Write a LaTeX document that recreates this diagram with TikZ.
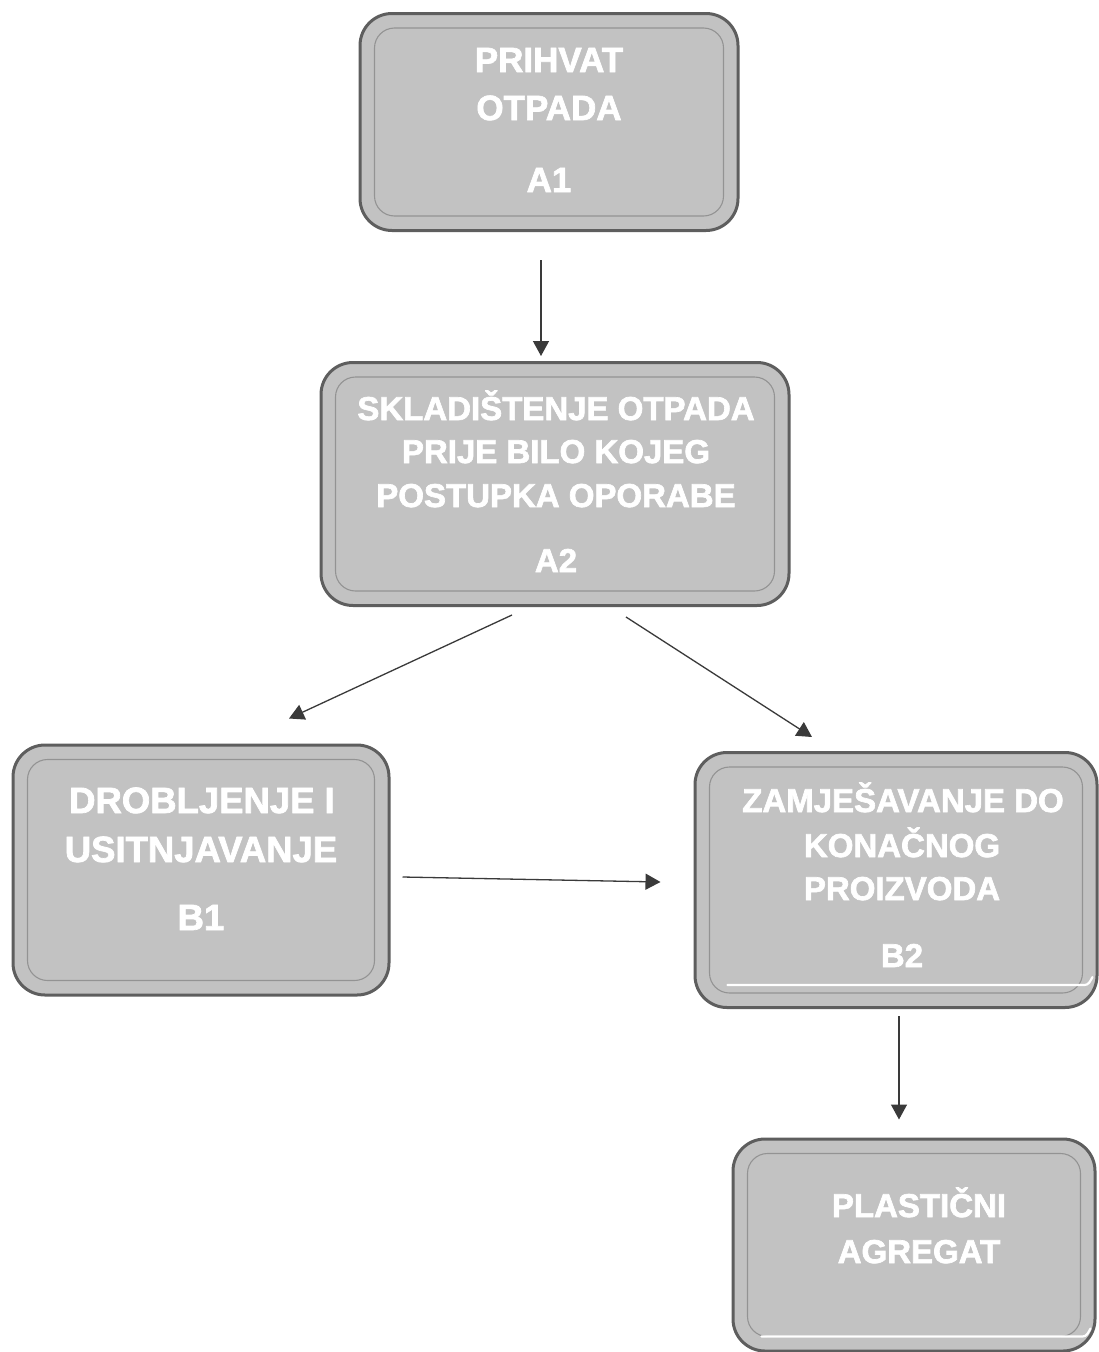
\documentclass[tikz,border=0pt]{standalone}
\usepackage{fontspec}
\setmainfont{Liberation Sans}[BoldFeatures={FakeBold=2}]
\usetikzlibrary{arrows.meta}
\definecolor{boxfill}{HTML}{C2C2C2}
\definecolor{boxedge}{HTML}{5E5E5E}
\definecolor{inneredge}{HTML}{939393}
\definecolor{arrowcol}{HTML}{3A3A3A}
\tikzset{
  procbox/.style={draw=boxedge, fill=boxfill, line width=3pt, rounded corners=32pt, inner sep=0pt},
  innerline/.style={draw=inneredge, line width=1.1pt, rounded corners=20pt},
  shine/.style={draw=white, line width=2.2pt, line cap=round},
  lbl/.style={text=white, font=\bfseries\fontsize{33}{33}\selectfont, anchor=base, inner sep=0pt},
  biglbl/.style={lbl, font=\bfseries\fontsize{35}{35}\selectfont},
  widelbl/.style={lbl, font=\bfseries\fontsize{36.5}{36.5}\selectfont},
  arr/.style={draw=arrowcol, line width=1.3pt, -{Triangle[width=16pt,length=15pt]}}
}
\newcommand\innerframe[1]{\draw[innerline] ([shift={(16,-16)}]#1.south west) rectangle ([shift={(-16,16)}]#1.north east);}
\begin{document}
\begin{tikzpicture}[x=1pt,y=-1pt]
\useasboundingbox[fill=white] (0,0) rectangle (1099,1352);
% boxes
\node[procbox, minimum width=378pt, minimum height=217pt] (a1) at (549,122) {};
\node[procbox, minimum width=468pt, minimum height=243pt] (a2) at (555,484) {};
\node[procbox, minimum width=376pt, minimum height=250pt] (b1) at (201,870) {};
\node[procbox, minimum width=402pt, minimum height=255pt] (b2) at (896,880) {};
\node[procbox, minimum width=362pt, minimum height=212pt] (b3) at (914,1245) {};
\innerframe{a1}
\innerframe{a2}
\innerframe{b1}
\innerframe{b2}
\innerframe{b3}
% highlights
\draw[shine] ([shift={(34,-24)}]b2.south west) -- ([shift={(-14,-24)}]b2.south east) to[out=0,in=-120] ([shift={(-6,-32)}]b2.south east);
\draw[shine] ([shift={(30,-16)}]b3.south west) -- ([shift={(-14,-16)}]b3.south east) to[out=0,in=-120] ([shift={(-6,-24)}]b3.south east);
% texts
\node[biglbl] (a1t1) at (549,72) {PRIHVAT};
\node[biglbl] (a1t2) at (549,120) {OTPADA};
\node[biglbl] (a1t3) at (549,192) {A1};
\node[lbl] (a2t1) at (556,420) {SKLADIŠTENJE OTPADA};
\node[lbl] (a2t2) at (556,463) {PRIJE BILO KOJEG};
\node[lbl] (a2t3) at (556,507) {POSTUPKA OPORABE};
\node[lbl] (a2t4) at (556,572) {A2};
\node[widelbl] (b1t1) at (202,813) {DROBLJENJE I};
\node[widelbl] (b1t2) at (201,862) {USITNJAVANJE};
\node[widelbl] (b1t3) at (201,930) {B1};
\node[lbl] (b2t1) at (903,812) {ZAMJEŠAVANJE DO};
\node[lbl] (b2t2) at (902,857) {KONAČNOG};
\node[lbl] (b2t3) at (902,900) {PROIZVODA};
\node[lbl] (b2t4) at (902,967) {B2};
\node[lbl] (b3t1) at (919,1217) {PLASTIČNI};
\node[lbl] (b3t2) at (919,1263) {AGREGAT};
% connectors
\draw[arr] ([shift={(-8,28)}]a1.south) -- ([shift={(-14,-5)}]a2.north);
\draw[arr] ([shift={(-43,8)}]a2.south) -- ([shift={(88,-25)}]b1.north);
\draw[arr] ([shift={(71,10)}]a2.south) -- ([shift={(-84,-14)}]b2.north);
\draw[arr] ([shift={(12,7)}]b1.east) -- ([shift={(-33,2)}]b2.west);
\draw[arr] ([shift={(3,7)}]b2.south) -- ([shift={(-15,-18)}]b3.north);
\end{tikzpicture}
\end{document}
